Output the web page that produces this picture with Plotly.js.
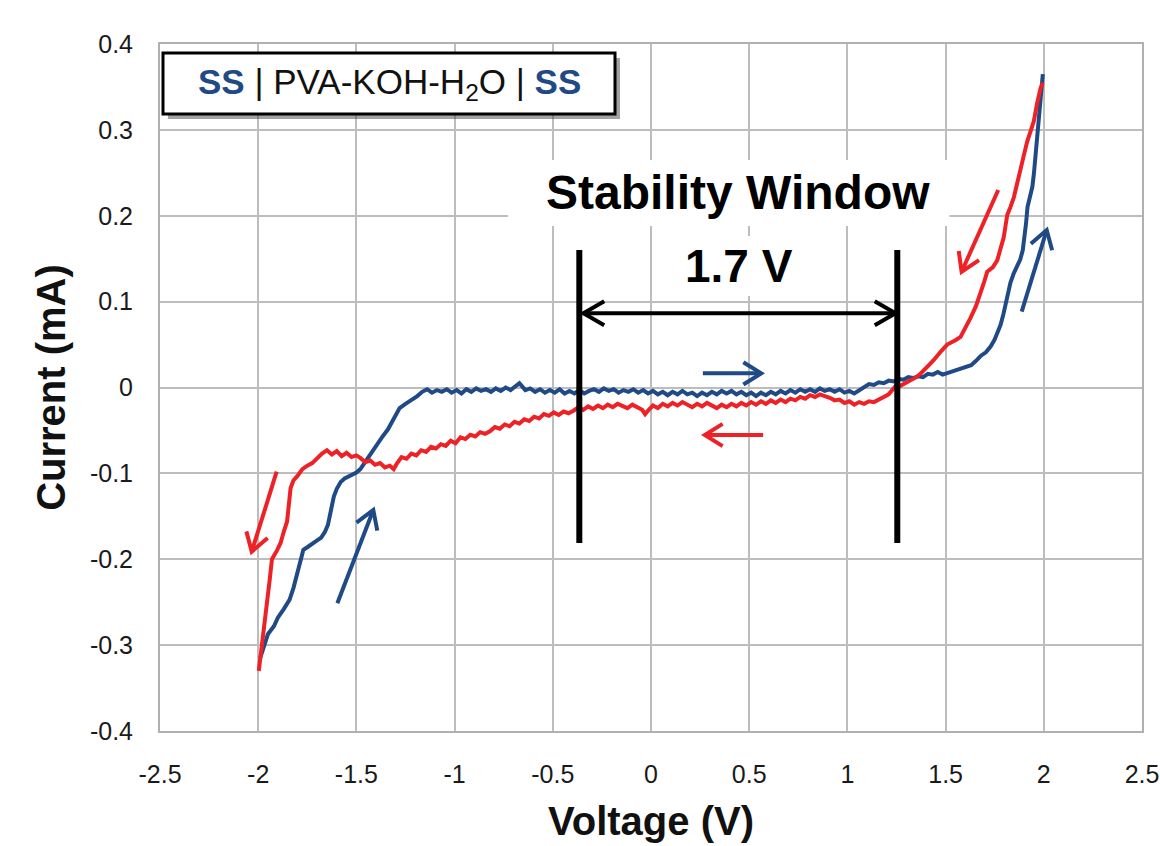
<!DOCTYPE html>
<html>
<head>
<meta charset="utf-8">
<script src="https://cdn.plot.ly/plotly-3.0.1.min.js"></script>
<style>html,body{margin:0;padding:0;background:#fff;}#chart{width:1160px;height:846px;}</style>
</head>
<body>
<div id="chart"></div>
<script>
// ---------- data ----------
const xTickVals = [-2.5, -2, -1.5, -1, -0.5, 0, 0.5, 1, 1.5, 2, 2.5];
const xTickText = ['-2.5', '-2', '-1.5', '-1', '-0.5', '0', '0.5', '1', '1.5', '2', '2.5'];
const yTickVals = [-0.4, -0.3, -0.2, -0.1, 0, 0.1, 0.2, 0.3, 0.4];
const yTickText = ['-0.4', '-0.3', '-0.2', '-0.1', '0', '0.1', '0.2', '0.3', '0.4'];

// forward sweep (blue), -2 V -> 2 V
const blueV = [-1.99,-1.97,-1.95,-1.92,-1.90,-1.87,-1.84,-1.82,-1.80,-1.78,-1.77,-1.75,-1.72,-1.70,-1.68,-1.66,-1.645,-1.63,-1.615,-1.60,-1.58,-1.56,-1.53,-1.50,-1.48,-1.46,-1.43,-1.40,-1.37,-1.34,-1.31,-1.28,-1.25,-1.22,-1.19,-1.165,-1.14,-1.115,-1.09,-1.065,-1.04,-1.015,-0.99,-0.965,-0.94,-0.915,-0.89,-0.865,-0.84,-0.815,-0.79,-0.765,-0.74,-0.715,-0.69,-0.67,-0.655,-0.64,-0.615,-0.59,-0.565,-0.54,-0.515,-0.49,-0.465,-0.44,-0.415,-0.39,-0.365,-0.34,-0.315,-0.29,-0.265,-0.24,-0.215,-0.19,-0.165,-0.14,-0.115,-0.09,-0.065,-0.04,-0.015,0.01,0.035,0.06,0.085,0.11,0.135,0.16,0.185,0.21,0.235,0.26,0.285,0.31,0.335,0.36,0.385,0.41,0.435,0.46,0.485,0.51,0.535,0.56,0.585,0.61,0.635,0.66,0.685,0.71,0.735,0.76,0.785,0.81,0.835,0.86,0.885,0.91,0.935,0.96,0.985,1.01,1.035,1.06,1.085,1.11,1.135,1.16,1.185,1.21,1.235,1.26,1.285,1.31,1.335,1.36,1.385,1.41,1.435,1.46,1.485,1.51,1.535,1.56,1.585,1.61,1.63,1.655,1.68,1.705,1.73,1.75,1.765,1.78,1.795,1.805,1.815,1.83,1.847,1.865,1.88,1.893,1.902,1.91,1.917,1.93,1.942,1.95,1.958,1.966,1.975,1.983,1.995];
const blueI = [-0.315,-0.300,-0.287,-0.278,-0.268,-0.258,-0.247,-0.233,-0.215,-0.198,-0.189,-0.186,-0.182,-0.178,-0.175,-0.168,-0.160,-0.143,-0.127,-0.118,-0.110,-0.106,-0.103,-0.099,-0.095,-0.088,-0.077,-0.068,-0.058,-0.049,-0.037,-0.024,-0.019,-0.015,-0.010,-0.005,-0.002,-0.006,-0.003,-0.005,-0.002,-0.006,-0.003,-0.007,-0.002,-0.005,-0.001,-0.004,-0.002,-0.005,-0.001,-0.004,0.000,-0.003,0.002,0.005,0.001,-0.003,-0.001,-0.005,-0.002,-0.006,-0.003,-0.006,-0.002,-0.007,-0.004,-0.007,-0.003,-0.007,-0.004,-0.002,-0.005,-0.001,-0.004,-0.002,-0.006,-0.003,-0.005,-0.002,-0.006,-0.003,-0.007,-0.004,-0.008,-0.005,-0.009,-0.005,-0.008,-0.004,-0.008,-0.006,-0.010,-0.006,-0.009,-0.005,-0.008,-0.004,-0.007,-0.004,-0.008,-0.005,-0.009,-0.006,-0.010,-0.006,-0.009,-0.005,-0.008,-0.004,-0.007,-0.003,-0.006,-0.002,-0.005,-0.002,-0.005,-0.001,-0.004,-0.002,-0.005,-0.002,-0.006,-0.004,-0.007,-0.003,0.001,0.004,0.003,0.006,0.005,0.008,0.007,0.010,0.009,0.012,0.011,0.013,0.012,0.016,0.015,0.018,0.015,0.017,0.019,0.021,0.022,0.025,0.026,0.031,0.037,0.041,0.048,0.056,0.064,0.073,0.086,0.098,0.110,0.122,0.133,0.142,0.149,0.160,0.175,0.192,0.210,0.222,0.234,0.250,0.272,0.295,0.318,0.341,0.365];

// reverse sweep (red), 2 V -> -2 V
const redV = [1.995,1.983,1.965,1.949,1.932,1.915,1.898,1.881,1.864,1.847,1.83,1.814,1.805,1.796,1.78,1.763,1.74,1.712,1.695,1.678,1.655,1.627,1.60,1.576,1.55,1.525,1.508,1.48,1.46,1.44,1.41,1.39,1.372,1.35,1.32,1.295,1.27,1.25,1.23,1.21,1.185,1.16,1.135,1.11,1.085,1.06,1.035,1.01,0.985,0.96,0.935,0.91,0.885,0.86,0.835,0.81,0.785,0.76,0.735,0.71,0.685,0.66,0.635,0.61,0.585,0.56,0.535,0.51,0.485,0.46,0.435,0.41,0.385,0.36,0.335,0.31,0.285,0.26,0.235,0.21,0.185,0.16,0.135,0.11,0.085,0.06,0.035,0.01,-0.015,-0.03,-0.045,-0.07,-0.095,-0.12,-0.145,-0.17,-0.195,-0.22,-0.245,-0.27,-0.295,-0.32,-0.345,-0.37,-0.395,-0.42,-0.445,-0.47,-0.495,-0.52,-0.545,-0.57,-0.595,-0.62,-0.645,-0.67,-0.695,-0.72,-0.745,-0.77,-0.795,-0.82,-0.845,-0.87,-0.895,-0.92,-0.945,-0.97,-0.995,-1.02,-1.045,-1.07,-1.095,-1.12,-1.145,-1.17,-1.195,-1.22,-1.245,-1.27,-1.295,-1.31,-1.33,-1.355,-1.38,-1.405,-1.43,-1.455,-1.48,-1.50,-1.525,-1.55,-1.575,-1.60,-1.625,-1.65,-1.675,-1.70,-1.725,-1.75,-1.775,-1.80,-1.82,-1.835,-1.845,-1.853,-1.87,-1.886,-1.905,-1.93,-1.942,-1.955,-1.967,-1.98,-1.99,-1.997];
const redI = [0.355,0.348,0.330,0.310,0.298,0.286,0.270,0.252,0.236,0.221,0.210,0.201,0.188,0.175,0.162,0.148,0.140,0.135,0.122,0.109,0.095,0.081,0.068,0.059,0.055,0.052,0.050,0.043,0.037,0.032,0.025,0.020,0.016,0.012,0.008,0.005,0.002,0.003,-0.003,-0.008,-0.011,-0.014,-0.017,-0.016,-0.019,-0.017,-0.020,-0.016,-0.018,-0.014,-0.015,-0.012,-0.010,-0.008,-0.011,-0.009,-0.013,-0.011,-0.015,-0.013,-0.017,-0.014,-0.018,-0.015,-0.019,-0.016,-0.020,-0.017,-0.021,-0.018,-0.022,-0.019,-0.023,-0.020,-0.024,-0.021,-0.018,-0.022,-0.019,-0.023,-0.020,-0.017,-0.021,-0.018,-0.022,-0.019,-0.024,-0.021,-0.027,-0.031,-0.026,-0.023,-0.020,-0.024,-0.021,-0.019,-0.023,-0.020,-0.024,-0.021,-0.025,-0.022,-0.026,-0.023,-0.027,-0.030,-0.028,-0.032,-0.029,-0.033,-0.031,-0.036,-0.034,-0.039,-0.037,-0.042,-0.040,-0.045,-0.043,-0.048,-0.046,-0.051,-0.054,-0.052,-0.057,-0.055,-0.060,-0.058,-0.065,-0.062,-0.068,-0.066,-0.071,-0.069,-0.075,-0.073,-0.079,-0.077,-0.083,-0.081,-0.089,-0.095,-0.091,-0.093,-0.088,-0.090,-0.085,-0.087,-0.082,-0.079,-0.081,-0.076,-0.080,-0.074,-0.078,-0.073,-0.077,-0.082,-0.088,-0.091,-0.095,-0.103,-0.108,-0.117,-0.140,-0.156,-0.168,-0.181,-0.190,-0.200,-0.225,-0.250,-0.270,-0.290,-0.310,-0.330];

// annotations (data units: V, mA)
const windowLimitsV = [-0.365, 1.254];
const windowLineI = [-0.181, 0.160];
const spanArrow = {x0: -0.344, x1: 1.245, y: 0.0864};
// direction arrows: [x0, y0, x1, y1, colour]  (tail -> head)
const BLUE = '#1F4A86', RED = '#EE2226';
const dirArrows = [
  [0.264, 0.0165, 0.561, 0.0165, BLUE],
  [0.571, -0.0553, 0.274, -0.0553, RED],
  [1.768, 0.230, 1.5815, 0.1348, RED],
  [1.8875, 0.0883, 2.0148, 0.1834, BLUE],
  [-1.906, -0.098, -2.033, -0.1912, RED],
  [-1.597, -0.2513, -1.414, -0.1426, BLUE]
];

// ---------- layout geometry ----------
const W = 1160, H = 846;
const M = {l: 160, r: 18, t: 44, b: 115};
const xRange = [-2.5, 2.5], yRange = [-0.4, 0.4];
const sx = (W - M.l - M.r) / (xRange[1] - xRange[0]);   // px per V
const sy = (H - M.t - M.b) / (yRange[1] - yRange[0]);   // px per mA

// open chevron head computed in pixel space, returned in data units
function headPath(x0, y0, x1, y1, len, angDeg) {
  const dx = (x1 - x0) * sx, dy = -(y1 - y0) * sy;
  const d = Math.hypot(dx, dy), ux = dx / d, uy = dy / d;
  const a = angDeg * Math.PI / 180;
  const pts = [-a, a].map(t => {
    const rx = ux * Math.cos(t) - uy * Math.sin(t);
    const ry = ux * Math.sin(t) + uy * Math.cos(t);
    return [x1 - rx * len / sx, y1 + ry * len / sy];
  });
  return `M${pts[0][0]},${pts[0][1]} L${x1},${y1} L${pts[1][0]},${pts[1][1]}`;
}

const shapes = [];
// white boxes behind the big labels (cover gridlines only)
shapes.push({type: 'rect', xref: 'x', yref: 'y', x0: -0.728, x1: 1.52, y0: 0.1881, y1: 0.2649,
  fillcolor: '#fff', line: {width: 0}, layer: 'between'});
shapes.push({type: 'rect', xref: 'x', yref: 'y', x0: 0.0585, x1: 0.835, y0: 0.1066, y1: 0.1764,
  fillcolor: '#fff', line: {width: 0}, layer: 'between'});
// legend-like label box with shadow
shapes.push({type: 'rect', xref: 'x', yref: 'y', x0: -2.459, x1: -0.158, y0: 0.3127, y1: 0.3837,
  fillcolor: 'rgba(70,70,70,0.5)', line: {width: 0}, layer: 'above'});
shapes.push({type: 'rect', xref: 'x', yref: 'y', x0: -2.4847, x1: -0.1833, y0: 0.3185, y1: 0.3895,
  fillcolor: '#fff', line: {color: '#000', width: 3}, layer: 'above'});
// stability window limits
windowLimitsV.forEach(v => shapes.push({type: 'line', xref: 'x', yref: 'y', x0: v, x1: v,
  y0: windowLineI[0], y1: windowLineI[1], line: {color: '#000', width: 6}, layer: 'above'}));
// double-headed span arrow
shapes.push({type: 'line', xref: 'x', yref: 'y', x0: spanArrow.x0, x1: spanArrow.x1, y0: spanArrow.y, y1: spanArrow.y,
  line: {color: '#000', width: 4}, layer: 'above'});
shapes.push({type: 'path', xref: 'x', yref: 'y', path: headPath(spanArrow.x0, spanArrow.y, spanArrow.x1, spanArrow.y, 24, 30),
  line: {color: '#000', width: 4}, layer: 'above'});
shapes.push({type: 'path', xref: 'x', yref: 'y', path: headPath(spanArrow.x1, spanArrow.y, spanArrow.x0, spanArrow.y, 24, 30),
  line: {color: '#000', width: 4}, layer: 'above'});
// scan-direction arrows
dirArrows.forEach(([x0, y0, x1, y1, c]) => {
  shapes.push({type: 'line', xref: 'x', yref: 'y', x0, y0, x1, y1, line: {color: c, width: 4}, layer: 'above'});
  shapes.push({type: 'path', xref: 'x', yref: 'y', path: headPath(x0, y0, x1, y1, 21, 32),
    line: {color: c, width: 4}, layer: 'above'});
});

const FONT = 'Liberation Sans, Arial, Helvetica, sans-serif';
const annotations = [
  {xref: 'x', yref: 'y', x: -1.334, y: 0.3540, showarrow: false, xanchor: 'center', yanchor: 'middle',
   text: '<b><span style="color:' + BLUE + '">SS</span></b> | PVA-KOH-H<sub>2</sub>O | <b><span style="color:' + BLUE + '">SS</span></b>',
   font: {family: FONT, size: 35, color: '#111'}},
  {xref: 'x', yref: 'y', x: 0.4405, y: 0.2265, showarrow: false, xanchor: 'center', yanchor: 'middle',
   text: '<b>Stability Window</b>', font: {family: FONT, size: 48, color: '#000'}},
  {xref: 'x', yref: 'y', x: 0.448, y: 0.1415, showarrow: false, xanchor: 'center', yanchor: 'middle',
   text: '<b>1.7 V</b>', font: {family: FONT, size: 46, color: '#000'}}
];

const traces = [
  {x: blueV, y: blueI, type: 'scatter', mode: 'lines', line: {color: BLUE, width: 4}, hoverinfo: 'skip'},
  {x: redV, y: redI, type: 'scatter', mode: 'lines', line: {color: RED, width: 4}, hoverinfo: 'skip'}
];

const layout = {
  width: W, height: H,
  margin: M,
  paper_bgcolor: '#fff', plot_bgcolor: '#fff',
  showlegend: false,
  font: {family: FONT, color: '#1a1a1a'},
  xaxis: {
    range: xRange, tickvals: xTickVals, ticktext: xTickText,
    showgrid: true, gridcolor: '#bdbdbd', gridwidth: 2, zeroline: false,
    showline: true, mirror: true, linecolor: '#b0b0b0', linewidth: 2,
    ticks: '', ticklabelstandoff: 20,
    tickfont: {family: FONT, size: 25, color: '#1a1a1a'},
    title: {text: '<b>Voltage (V)</b>', font: {family: FONT, size: 40, color: '#111'}, standoff: 20}
  },
  yaxis: {
    range: yRange, tickvals: yTickVals, ticktext: yTickText,
    showgrid: true, gridcolor: '#bdbdbd', gridwidth: 2, zeroline: false,
    showline: true, mirror: true, linecolor: '#b0b0b0', linewidth: 2,
    ticks: '', ticklabelstandoff: 20,
    tickfont: {family: FONT, size: 25, color: '#1a1a1a'},
    title: {text: '<b>Current (mA)</b>', font: {family: FONT, size: 40, color: '#111'}, standoff: 12}
  },
  shapes: shapes,
  annotations: annotations
};

Plotly.newPlot('chart', traces, layout, {staticPlot: true, displayModeBar: false});
</script>
</body>
</html>
